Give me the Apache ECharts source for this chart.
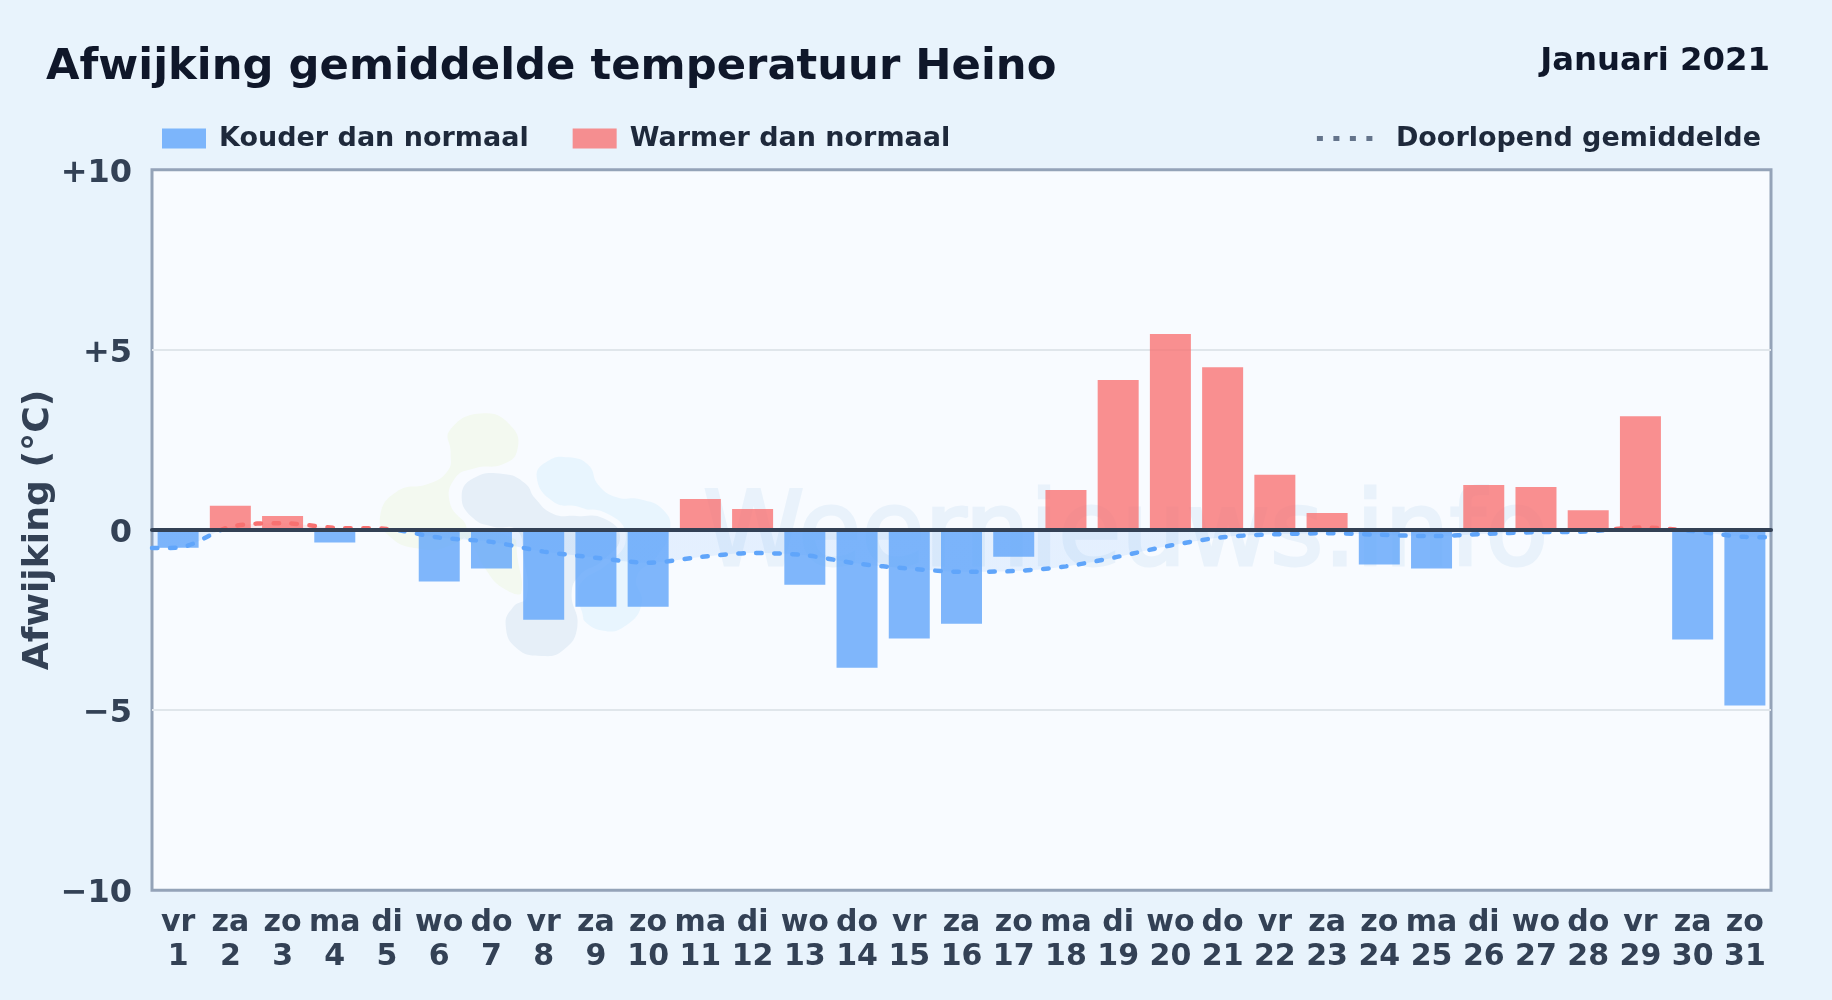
<!DOCTYPE html>
<html><head><meta charset="utf-8">
<style>html,body{margin:0;padding:0;background:#e8f3fc}#c{width:1832px;height:1000px}</style>
<script src="https://cdn.jsdelivr.net/npm/echarts@6/dist/echarts.min.js"></script>
</head><body><div id="c"></div>
<script>
const weekdays = ['vr','za','zo','ma','di','wo','do','vr','za','zo','ma','di','wo','do','vr','za','zo','ma','di','wo','do','vr','za','zo','ma','di','wo','do','vr','za','zo'];
const dayNumbers = [1,2,3,4,5,6,7,8,9,10,11,12,13,14,15,16,17,18,19,20,21,22,23,24,25,26,27,28,29,30,31];
const deviation = [-0.49,0.67,0.39,-0.35,-0.05,-1.43,-1.07,-2.49,-2.13,-2.13,0.86,0.58,-1.52,-3.82,-3.01,-2.6,-0.74,1.11,4.16,5.44,4.52,1.53,0.47,-0.96,-1.07,1.25,1.19,0.55,3.16,-3.04,-4.87];
const runningMeanX = [0.5,1,2,3,4,5,6,7,8,9,10,11,12,13,14,15,16,17,18,19,20,21,22,23,24,25,26,27,28,29,30,31,31.5];
const runningMean = [-0.5,-0.49,0.09,0.19,0.06,0.03,-0.21,-0.33,-0.6,-0.77,-0.91,-0.75,-0.64,-0.7,-0.93,-1.07,-1.16,-1.14,-1.01,-0.74,-0.43,-0.2,-0.12,-0.09,-0.13,-0.17,-0.11,-0.06,-0.04,0.07,-0.03,-0.19,-0.2];
const FONT = '"DejaVu Sans"';
const chart = echarts.init(document.getElementById('c'), null, {renderer:'canvas'});
const blob = (points, fill, extra) => ({type:'polygon', x:360, y:390, scaleX:1/3, scaleY:1/3, z:1, silent:true, shape:{points, smooth:0.5}, style:Object.assign({fill}, extra||{})});
const greyBlob = [[305,320],[340,265],[430,252],[495,280],[525,325],[580,372],[650,378],[730,385],[780,440],[730,510],[660,555],[635,610],[652,710],[610,780],[545,798],[470,775],[437,705],[460,650],[500,620],[490,500],[470,420],[400,410],[340,385]];
chart.setOption({
  animation:false,
  backgroundColor:'#e8f3fc',
  textStyle:{fontFamily:FONT},
  title:[
    {text:'Afwijking gemiddelde temperatuur Heino', left:46, top:46, padding:0, textStyle:{fontFamily:FONT,fontWeight:'bold',fontSize:43.3,color:'#0f172a'}},
    {text:'Januari 2021', right:62, top:46, padding:0, textStyle:{fontFamily:FONT,fontWeight:'bold',fontSize:32.3,color:'#0f172a'}}
  ],
  legend:[
    {left:162, top:125, padding:0, itemWidth:44, itemHeight:20, itemGap:44, selectedMode:false, icon:'rect',
     textStyle:{fontFamily:FONT,fontWeight:'bold',fontSize:27,color:'#1e293b',padding:[0,0,0,8]},
     data:['Kouder dan normaal','Warmer dan normaal']},
    {right:71, top:125, padding:0, itemWidth:59, itemHeight:20, selectedMode:false,
     textStyle:{fontFamily:FONT,fontWeight:'bold',fontSize:27,color:'#1e293b',padding:[0,0,0,15]},
     data:[{name:'Doorlopend gemiddelde', itemStyle:{opacity:0}, lineStyle:{color:'#64748b',type:[6,10.5],width:5,cap:'butt',opacity:1}}]}
  ],
  grid:{left:152, right:61, top:169.7, height:720.6, show:true, backgroundColor:'#f8fbff', borderColor:'#94a3b8', borderWidth:3},
  xAxis:[
    {type:'category', data:weekdays.map((w,i)=>w+'\n'+dayNumbers[i]), position:'bottom',
     axisLine:{show:false,onZero:false}, axisTick:{show:false}, splitLine:{show:false},
     axisLabel:{interval:0, margin:16, fontFamily:FONT, fontWeight:'bold', fontSize:30, lineHeight:34, color:'#334155'}},
    {type:'value', min:0.5, max:31.5, z:5, axisLabel:{show:false}, axisTick:{show:false}, splitLine:{show:false},
     axisLine:{show:true,onZero:true,lineStyle:{color:'#334155',width:4}}}
  ],
  yAxis:{type:'value', min:-10, max:10, interval:5,
    name:'Afwijking (°C)', nameLocation:'middle', nameGap:95, nameRotate:90, nameMoveOverlap:false,
    nameTextStyle:{fontFamily:FONT,fontWeight:'bold',fontSize:36.2,color:'#334155'},
    axisLine:{show:false}, axisTick:{show:false},
    splitLine:{showMinLine:false, showMaxLine:false, lineStyle:{color:'#e0e6eb',width:2}},
    axisLabel:{margin:20,
      formatter:v=>'{t|'+(v>0?'+'+v:(v<0?'\u2212'+Math.abs(v):'0'))+'}',
      rich:{t:{fontFamily:FONT,fontWeight:'bold',fontSize:32,color:'#334155',height:32,lineHeight:39,verticalAlign:'bottom'}}}},
  visualMap:{show:false, seriesIndex:2, dimension:1, pieces:[{gte:-10,lte:0,color:'#60a5fa'},{gt:0,lte:10,color:'#f87171'}]},
  series:[
    {name:'Kouder dan normaal', type:'bar', barWidth:41, barGap:'-100%', itemStyle:{color:'rgba(96,165,250,0.8)'},
     data:deviation.map(v=>v<0?v:null)},
    {name:'Warmer dan normaal', type:'bar', barWidth:41, barGap:'-100%', itemStyle:{color:'rgba(248,113,113,0.78)'},
     data:deviation.map(v=>v>=0?v:null)},
    {name:'Doorlopend gemiddelde', type:'line', xAxisIndex:1, symbol:'none', smooth:0.3, z:4,
     lineStyle:{width:4.5,type:[5.5,12.5],cap:'round'}, areaStyle:{opacity:0.13},
     data:runningMeanX.map((x,i)=>[x,runningMean[i]])}
  ],
  graphic:[
    blob([[60,380],[110,305],[210,280],[265,240],[272,190],[270,120],[370,70],[455,110],[472,180],[430,222],[345,235],[285,265],[270,340],[320,420],[260,470],[170,475],[90,440]],'#f3f9f0'),
    blob([[300,420],[340,470],[375,535],[430,595],[490,605],[500,500],[450,440]],'#f3f9f0'),
    blob([[530,260],[565,212],[625,202],[685,225],[715,285],[770,322],[840,328],[910,360],[930,420],[890,500],[830,560],[845,640],[800,705],[730,722],[660,680],[630,630],[640,580],[710,520],[780,440],[730,385],[660,352],[580,335]],'#e8f5fe'),
    blob(greyBlob,'#f8fbff',{stroke:'#f8fbff',lineWidth:36}),
    blob(greyBlob,'#e6eff8'),
    {type:'text', x:703, y:590, z:1, silent:true, style:{text:'Weernieuws.info', font:'102.5px "DejaVu Sans"', fill:'#e9f2fb', stroke:'#e9f2fb', lineWidth:3, textAlign:'left', textVerticalAlign:'bottom'}}
  ]
});
</script></body></html>
